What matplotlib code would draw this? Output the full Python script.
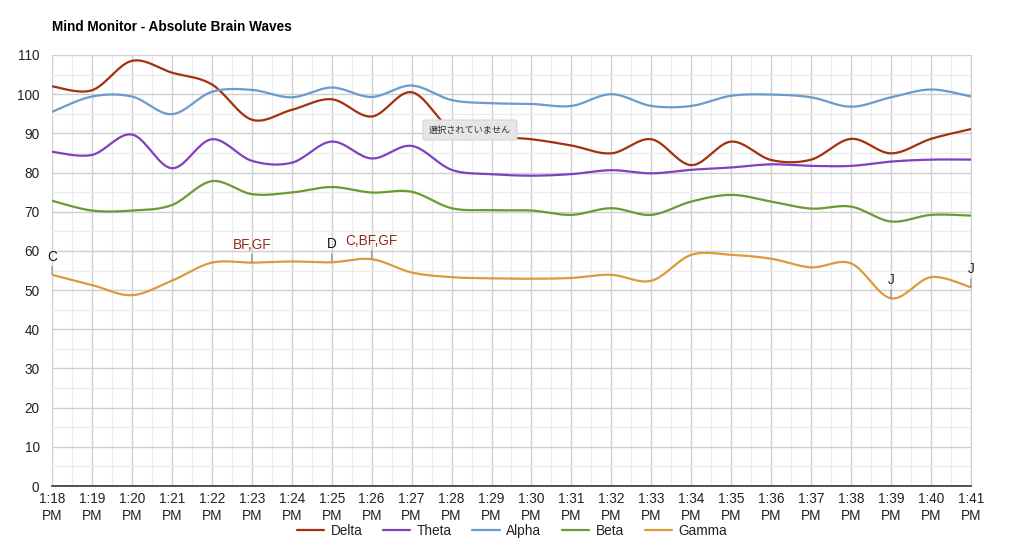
import numpy as np
import matplotlib
matplotlib.use("Agg")
import matplotlib.pyplot as plt
from matplotlib.patches import FancyBboxPatch

plt.rcParams['font.family'] = ['Liberation Sans', 'Noto Sans CJK JP', 'DejaVu Sans']

title = "Mind Monitor - Absolute Brain Waves"
minutes = list(range(18, 42))
tick_labels = [f"1:{m}\nPM" for m in minutes]

delta = [102.0, 101.0, 108.5, 105.5, 102.5, 93.5, 96.0, 98.7, 94.3, 100.5, 91.0, 89.3,
         88.5, 86.9, 84.9, 88.5, 81.9, 87.9, 83.2, 83.3, 88.6, 84.9, 88.6, 91.1]
theta = [85.3, 84.5, 89.7, 81.1, 88.5, 83.0, 82.5, 87.9, 83.6, 86.8, 80.7, 79.6,
         79.2, 79.6, 80.6, 79.8, 80.7, 81.3, 82.1, 81.7, 81.7, 82.8, 83.3, 83.3]
alpha = [95.5, 99.4, 99.4, 94.9, 100.6, 101.1, 99.2, 101.7, 99.3, 102.2, 98.5, 97.7,
         97.5, 97.0, 100.0, 97.0, 97.0, 99.6, 99.9, 99.2, 96.8, 99.2, 101.2, 99.4]
beta = [72.8, 70.3, 70.3, 71.7, 77.8, 74.5, 74.9, 76.3, 74.9, 75.1, 70.9, 70.4,
        70.3, 69.2, 70.9, 69.2, 72.6, 74.3, 72.6, 70.8, 71.3, 67.5, 69.2, 69.0]
gamma = [53.9, 51.3, 48.7, 52.4, 57.0, 57.0, 57.3, 57.1, 57.9, 54.5, 53.3, 53.0,
         52.9, 53.1, 53.9, 52.4, 59.0, 59.0, 58.0, 55.8, 56.8, 47.9, 53.3, 50.7]

series_names = ["Delta", "Theta", "Alpha", "Beta", "Gamma"]
series_values = [delta, theta, alpha, beta, gamma]
series_colors = ["#A3300F", "#8040C0", "#6A9BCB", "#6B9A33", "#DE9A3A"]

# annotations on the Gamma series: (index, text, color)
ann_idx = [0, 5, 7, 8, 21, 23]
ann_text = ["C", "BF,GF", "D", "C,BF,GF", "J", "J"]
ann_color = ["#111111", "#8B2E1A", "#111111", "#8B2E1A", "#222222", "#222222"]

tooltip_text = "選択されていません"


def smooth(y, n=20):
    """Catmull-Rom style cubic Bezier smoothing between consecutive points."""
    y = np.asarray(y, float)
    x = np.arange(len(y), dtype=float)
    xs, ys = [], []
    for i in range(len(y) - 1):
        p0 = np.array([x[i], y[i]])
        p3 = np.array([x[i + 1], y[i + 1]])
        prev = np.array([x[i - 1], y[i - 1]]) if i > 0 else p0
        nxt = np.array([x[i + 2], y[i + 2]]) if i + 2 < len(y) else p3
        c1 = p0 + (p3 - prev) / 6.0
        c2 = p3 - (nxt - p0) / 6.0
        t = np.linspace(0, 1, n, endpoint=(i == len(y) - 2))[:, None]
        pts = ((1 - t) ** 3) * p0 + 3 * ((1 - t) ** 2) * t * c1 + 3 * (1 - t) * t ** 2 * c2 + t ** 3 * p3
        xs.append(pts[:, 0]); ys.append(pts[:, 1])
    return np.concatenate(xs), np.concatenate(ys)


fig = plt.figure(figsize=(10.24, 5.4), dpi=100)
ax = fig.add_axes([52 / 1024, 1 - 486 / 540, (971 - 52) / 1024, (486 - 55) / 540])

x = np.arange(len(minutes))
ax.set_xlim(0, len(minutes) - 1)
ax.set_ylim(0, 110)
ax.set_yticks(np.arange(0, 111, 10))
ax.set_yticks(np.arange(5, 110, 10), minor=True)
ax.set_xticks(x)
ax.set_xticks(x[:-1] + 0.5, minor=True)
ax.set_xticklabels(tick_labels, linespacing=1.3)
ax.grid(True, which='major', color='#d0d0d0', lw=1.0)
ax.grid(True, which='minor', color='#ececec', lw=1.0)
ax.set_axisbelow(True)
for s in ['top', 'left']:
    ax.spines[s].set_visible(False)
ax.spines['right'].set_color('#d0d0d0')
ax.spines['bottom'].set_color('#333333')
ax.spines['bottom'].set_linewidth(1.2)
ax.tick_params(which='both', length=0)
ax.tick_params(axis='y', labelsize=9.8, labelcolor='#222222', pad=9)
ax.tick_params(axis='x', labelsize=9.8, labelcolor='#222222', pad=4)

for name, vals, col in zip(series_names, series_values, series_colors):
    sx, sy = smooth(vals)
    ax.plot(sx, sy, color=col, lw=1.6, label=name, solid_capstyle='round', zorder=3)

for i, t, c in zip(ann_idx, ann_text, ann_color):
    ax.annotate(t, xy=(x[i], gamma[i]), xytext=(0, 8), textcoords='offset points',
                ha='center', va='bottom', fontsize=9.8, color=c, zorder=5,
                arrowprops=dict(arrowstyle='-', color='#999999', lw=1.0,
                                shrinkA=0, shrinkB=0))

# tooltip box
box = FancyBboxPatch((423 / 1024, 1 - 140 / 540), 94 / 1024, 20 / 540,
                     boxstyle="round,pad=0,rounding_size=0.003",
                     transform=fig.transFigure, facecolor='#e6e6e6',
                     edgecolor='#d5d5d5', lw=0.8, zorder=10)
fig.patches.append(box)
fig.text(470 / 1024, 1 - 130 / 540, tooltip_text, ha='center', va='center',
         fontsize=6.6, color='#333333', family=['Noto Sans CJK JP', 'DejaVu Sans'], zorder=11)

fig.text(52 / 1024, 1 - 27 / 540, title, ha='left', va='center',
         fontsize=9.8, fontweight='bold', color='#000000')

handles, labels = ax.get_legend_handles_labels()
fig.legend(handles, labels, loc='center', bbox_to_anchor=(512 / 1024, 1 - 531 / 540),
           ncol=5, frameon=False, fontsize=9.8, handlelength=2.0, columnspacing=1.5,
           handletextpad=0.5, labelcolor='#222222')

fig.savefig("out.png", dpi=100)
